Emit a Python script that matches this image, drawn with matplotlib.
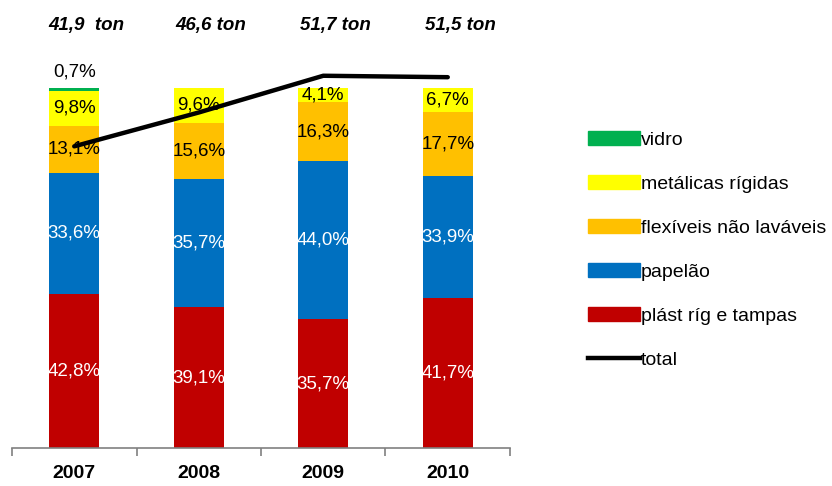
import matplotlib
matplotlib.use("Agg")
import matplotlib.pyplot as plt
from matplotlib.patches import Patch
from matplotlib.lines import Line2D
import numpy as np

years = ["2007", "2008", "2009", "2010"]
plast = [42.8, 39.1, 35.7, 41.7]
papelao = [33.6, 35.7, 44.0, 33.9]
flexiveis = [13.1, 15.6, 16.3, 17.7]
metalicas = [9.8, 9.6, 4.1, 6.7]
vidro = [0.7, 0.0, 0.0, 0.0]
total = [41.9, 46.6, 51.7, 51.5]
total_labels = ["41,9  ton", "46,6 ton", "51,7 ton", "51,5 ton"]

series = [
    ("plást ríg e tampas", plast, "#C00000", "white"),
    ("papelão", papelao, "#0070C0", "white"),
    ("flexíveis não laváveis", flexiveis, "#FFC000", "black"),
    ("metálicas rígidas", metalicas, "#FFFF00", "black"),
    ("vidro", vidro, "#00B050", "black"),
]

plt.rcParams['font.family'] = ['Liberation Sans', 'DejaVu Sans']

fig = plt.figure(figsize=(8.32, 4.86), dpi=100)
ax = fig.add_axes([12/832, 38/486, 498/832, 360/486])
x = np.arange(len(years))
bottom = np.zeros(len(years))
for name, vals, color, tcol in series:
    vals = np.array(vals)
    ax.bar(x, vals, 0.4, bottom=bottom, color=color, label=name)
    for i, v in enumerate(vals):
        if v >= 3:
            ax.text(x[i], bottom[i] + v / 2, f"{v:.1f}%".replace(".", ","),
                    ha="center", va="center", color=tcol, fontsize=13.5)
    bottom += vals

# small vidro label above 2007
ax.text(x[0], 104.4, f"{vidro[0]:.1f}%".replace(".", ","), ha="center", va="center",
        fontsize=13.5, clip_on=False)

for i, lab in enumerate(total_labels):
    ax.text(x[i] + 0.1, 117.5, lab, ha="center", va="center", fontsize=13.5,
            fontweight="bold", fontstyle="italic", clip_on=False)

ax.set_xlim(-0.5, 3.5)
ax.set_ylim(0, 100)
for s in ["top", "right", "left"]:
    ax.spines[s].set_visible(False)
ax.spines["bottom"].set_color("#808080")
ax.spines["bottom"].set_linewidth(1.2)
ax.set_yticks([])
ax.set_xticks(x)
ax.set_xticklabels(years, fontsize=14, fontweight="bold")
ax.tick_params(axis="x", which="major", length=0, pad=12)
ax.set_xticks(np.arange(-0.5, 3.6, 1), minor=True)
ax.tick_params(axis="x", which="minor", length=6, color="#808080", width=1.2)

ax2 = ax.twinx()
ax2.plot(x, total, color="black", linewidth=3.2, solid_capstyle="round", clip_on=False)
ax2.set_ylim(0, 50)
ax2.set_xlim(-0.5, 3.5)
ax2.axis("off")

handles = [Patch(color=c, label=n) for n, v, c, t in series[::-1]]
handles.append(Line2D([0], [0], color="black", linewidth=3.2, label="total"))
fig.legend(handles=handles, loc="upper left", bbox_to_anchor=(588/832, 1 - 131/486),
           frameon=False, fontsize=14, handlelength=2.67, handleheight=0.7,
           labelspacing=1.36, handletextpad=0.05, borderpad=0, borderaxespad=0)

fig.savefig("out.png", dpi=100)
